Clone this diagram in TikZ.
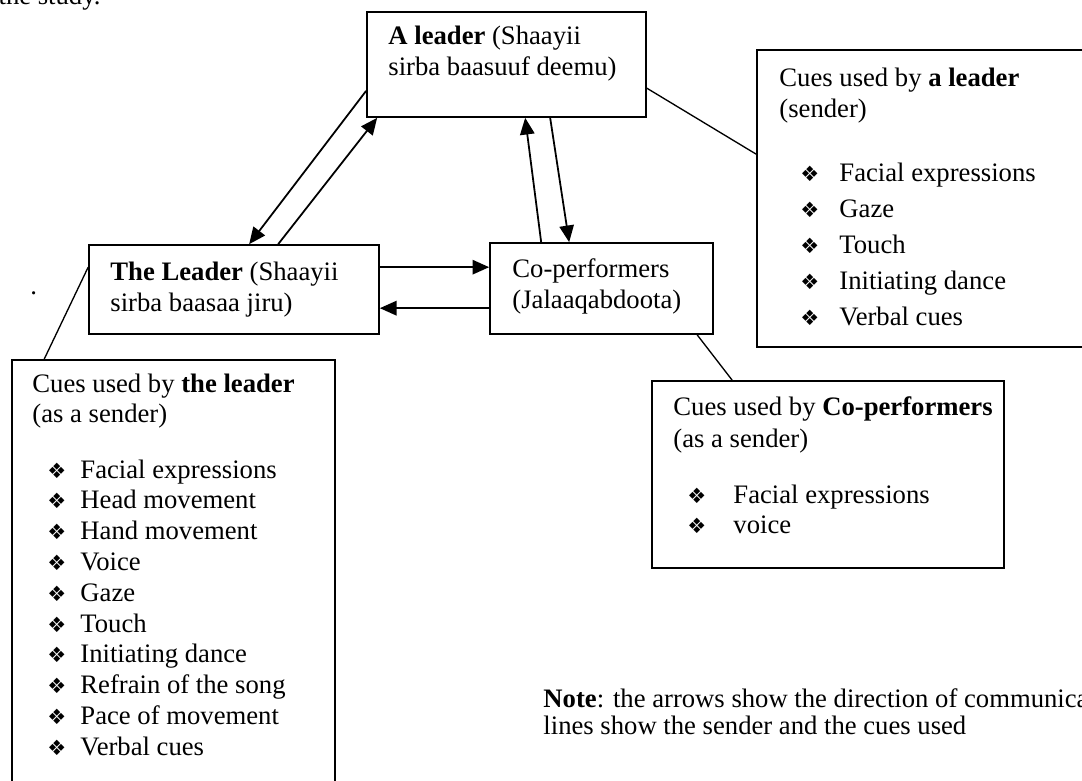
\documentclass[tikz,border=0pt]{standalone}
\usepackage{fontspec}
\setmainfont{Liberation Serif}
\newfontfamily\dejavu{DejaVu Sans}
\usetikzlibrary{arrows.meta,calc,fit}
\begin{document}
\begin{tikzpicture}[x=0.45pt,y=-0.45pt,
  cbox/.style={draw, line width=0.75pt, inner sep=0pt},
  txt/.style={anchor=base west, inner sep=0pt, font=\fontsize{12pt}{13.8pt}\selectfont},
  bul/.style={anchor=base west, inner sep=0pt, font=\dejavu\fontsize{9.5pt}{10pt}\selectfont},
  arr/.style={line width=0.8pt, -{Triangle[length=7.5pt,width=6.5pt]}},
  link/.style={line width=0.6pt}]
\useasboundingbox (0,0) rectangle (1082,780);

% cut-off text at top
\node[txt, anchor=base east] (top) at (101,4) {the study.};

% boxes
\node[cbox, fit={(367,12) (646,117)}] (aL) {};
\node[cbox, fit={(89,245) (379,334)}] (tL) {};
\node[cbox, fit={(490,243) (713,334)}] (cP) {};
\node[cbox, fit={(757,50) (1095,347)}] (cA) {};
\node[cbox, fit={(12,360) (335,795)}] (cT) {};
\node[cbox, fit={(652,381) (1004,568)}] (cC) {};

% texts in main boxes
\node[txt] (aL1) at (388,44) {\textbf{A leader} (Shaayii};
\node[txt] (aL2) at (388,75) {sirba baasuuf deemu)};
\node[txt] (tL1) at (110,280) {\textbf{The Leader} (Shaayii};
\node[txt] (tL2) at (110,311) {sirba baasaa jiru)};
\node[txt] (cP1) at (512,277) {Co-performers};
\node[txt] (cP2) at (512,308) {(Jalaaqabdoota)};

\node[txt] (dot) at (30,294) {.};

% cues of a leader
\node[txt] (cA1) at (779,86) {Cues used by \textbf{a leader}};
\node[txt] (cA2) at (779,117) {(sender)};
\foreach \t [count=\i] in {Facial expressions, Gaze, Touch, Initiating dance, Verbal cues}{
  \node[bul] (cAb\i) at (800,{181+36*(\i-1)}) {❖};
  \node[txt] (cAi\i) at (839,{181+36*(\i-1)}) {\t};
}

% cues of the leader
\node[txt] (cT1) at (32,392) {Cues used by \textbf{the leader}};
\node[txt] (cT2) at (32,422) {(as a sender)};
\foreach \t [count=\i] in {Facial expressions, Head movement, Hand movement, Voice, Gaze, Touch, Initiating dance, Refrain of the song, Pace of movement, Verbal cues}{
  \node[bul] (cTb\i) at (47,{478+30.8*(\i-1)}) {❖};
  \node[txt] (cTi\i) at (80,{478+30.8*(\i-1)}) {\t};
}

% cues of co-performers
\node[txt] (cC1) at (673,415) {Cues used by \textbf{Co-performers}};
\node[txt] (cC2) at (673,447) {(as a sender)};
\foreach \t [count=\i] in {Facial expressions, voice}{
  \node[bul] (cCb\i) at (687,{503+30*(\i-1)}) {❖};
  \node[txt] (cCi\i) at (733,{503+30*(\i-1)}) {\t};
}

% note
\node[txt] (n1) at (543,707) {\textbf{Note}: the arrows show the direction of communica};
\node[txt] (n2) at (543,734) {lines show the sender and the cues used};

% arrows
\draw[arr] ($(aL.south west)+(0,-27)$) -- ($(tL.north west)+(161,0)$);
\draw[arr] ($(tL.north west)+(190,0)$) -- ($(aL.south west)+(11,0)$);
\draw[arr] ($(cP.north west)+(52,0)$) -- ($(aL.south west)+(159,0)$);
\draw[arr] ($(aL.south west)+(184,0)$) -- ($(cP.north west)+(80,0)$);
\draw[arr] ($(tL.north east)+(0,23)$) -- ($(cP.north west)+(0,25)$);
\draw[arr] ($(cP.north west)+(0,66)$) -- ($(tL.north east)+(0,64)$);

% links to cue boxes
\draw[link] ($(aL.north east)+(0,77)$) -- ($(cA.north west)+(0,105)$);
\draw[link] ($(tL.north west)+(0,23)$) -- ($(cT.north west)+(33,0)$);
\draw[link] ($(cP.south west)+(208,0)$) -- ($(cC.north west)+(81,0)$);
\end{tikzpicture}
\end{document}
